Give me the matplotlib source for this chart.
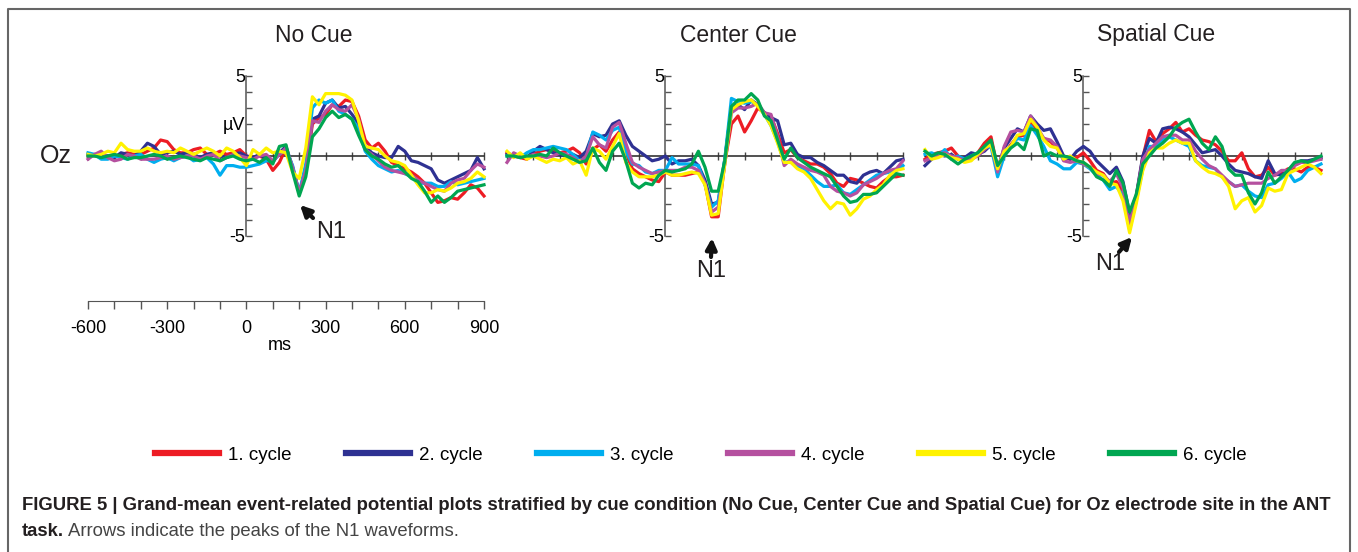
import numpy as np
import matplotlib
matplotlib.use("Agg")
import matplotlib.pyplot as plt
from matplotlib.lines import Line2D

plt.rcParams['font.family'] = ['Liberation Sans', 'DejaVu Sans']
plt.rcParams['axes.unicode_minus'] = False

W, H = 1358, 552

# sampling grid of the waveforms (ms)
times = np.arange(-600, 901, 25)

conditions = ["No Cue", "Center Cue", "Spatial Cue"]
cycle_labels = ["1. cycle", "2. cycle", "3. cycle", "4. cycle", "5. cycle", "6. cycle"]
cycle_colors = ["#ED1C24", "#2E3192", "#00AEEF", "#B5509F", "#FFF200", "#00A651"]

# ---- No Cue (uV) ----
nocue_c1 = [0, 0.1, 0, 0, -0.1, 0.1, 0.2, 0.1, 0.1, 0.3, 0.5, 1.0, 0.9, 0.4, 0.2, 0.2, 0.4, 0.5, 0.1, 0.1, 0.3, 0.1, 0.2, 0.4, 0.0,
            -0.1, 0.0, -0.2, -0.9, -0.4, 0.5, -0.8, -2.3, -1.0, 2.0, 2.4, 2.6, 3.2, 3.1, 3.5, 3.4, 2.5, 1.0, 0.5, 0.8, 0.3, -0.4,
            -0.6, -0.8, -1.0, -1.3, -1.7, -2.3, -2.9, -2.8, -2.6, -2.7, -2.3, -1.8, -2.0, -2.5]
nocue_c2 = [0.1, 0, 0, 0, -0.1, 0.2, 0.1, 0, 0.3, 0.8, 0.6, 0.1, 0.2, 0.3, 0.1, 0.2, 0.1, -0.1, 0.1, 0.2, 0.0, -0.1, 0.1, 0.2, 0.0,
            -0.1, 0.1, -0.2, -0.4, 0.2, 0.6, -0.7, -2.3, -0.8, 2.3, 2.5, 3.3, 3.5, 3.0, 3.1, 2.6, 2.0, 0.6, 0.2, 0.0, -0.1, -0.1,
            0.6, 0.3, -0.3, -0.4, -0.6, -0.8, -1.5, -1.7, -1.5, -1.3, -1.1, -0.9, -0.1, -0.8]
nocue_c3 = [0.2, 0.1, -0.2, -0.2, 0.0, -0.1, -0.2, 0.0, 0.1, -0.2, -0.4, -0.2, -0.1, -0.3, -0.1, 0.0, -0.3, -0.2, -0.1, -0.5, -1.2, -0.6, -0.6, -0.7, -0.7,
            -0.6, -0.5, -0.3, -0.3, 0.1, 0.4, -0.6, -2.3, -0.5, 3.0, 3.5, 3.3, 3.5, 2.8, 2.6, 2.3, 1.7, 0.3, -0.2, -0.6, -0.8, -1.0,
            -0.9, -1.1, -1.3, -1.7, -1.7, -1.7, -1.9, -1.9, -1.6, -1.8, -1.7, -1.6, -1.5, -1.4]
nocue_c4 = [-0.2, 0.1, 0.3, -0.1, -0.3, -0.2, 0.1, 0.0, -0.2, -0.2, -0.2, -0.1, 0.0, -0.2, -0.1, 0.0, 0.0, -0.2, 0.0, 0.1, -0.3, -0.1, 0.1, 0.0, -0.1,
            -0.2, 0.0, 0.1, -0.3, 0.1, 0.5, -0.7, -2.3, -0.9, 2.2, 2.1, 2.8, 3.2, 2.9, 2.8, 3.2, 2.3, 0.4, 0.1, -0.3, -0.7, -0.9,
            -1.0, -1.1, -1.2, -1.5, -1.7, -1.9, -2.1, -2.2, -1.7, -1.5, -1.4, -0.9, -0.5, -0.7]
nocue_c5 = [0.1, 0.0, 0.1, 0.3, 0.2, 0.8, 0.4, 0.3, 0.3, 0.5, 0.3, 0.2, 0.3, 0.2, 0.5, 0.3, 0.1, 0.3, 0.5, 0.3, 0.0, 0.5, 0.3, -0.1, -0.6,
            0.4, 0.1, 0.5, 0.2, 0.3, 0.2, -1.0, -1.4, 0.5, 3.7, 3.2, 3.9, 3.9, 3.9, 3.8, 3.5, 2.2, 0.6, 0.5, 0.4, 0.0, -0.3,
            -0.4, -0.6, -1.2, -1.8, -2.3, -2.3, -2.1, -2.2, -2.0, -1.7, -1.6, -1.4, -1.0, -1.3]
nocue_c6 = [0.0, 0.0, -0.1, 0.0, 0.1, 0.0, -0.2, -0.1, -0.1, 0.0, 0.1, 0.0, -0.2, -0.1, 0.0, -0.1, -0.2, -0.3, -0.1, -0.2, -0.3, -0.1, 0.0, -0.2, -0.3,
            -0.2, -0.4, -0.1, -0.5, 0.6, 0.7, -1.0, -2.5, -1.3, 1.2, 1.7, 2.4, 2.8, 2.4, 2.6, 2.3, 1.3, 0.4, 0.0, -0.2, -0.5, -0.7,
            -0.6, -1.0, -1.4, -1.6, -2.2, -2.9, -2.5, -2.9, -2.6, -2.2, -2.1, -2.0, -1.9, -1.8]

# ---- Center Cue (uV) ----
center_c1 = [0.2, 0.0, -0.1, -0.2, 0.1, 0.3, 0.4, 0.3, 0.2, 0.3, 0.5, 0.2, -0.5, 0.4, 0.7, 0.3, 1.0, 1.5, 0.2, -0.8, -1.1, -1.3, -1.5, -1.6, -1.0,
             -1.2, -1.2, -1.2, -1.1, -1.0, -1.7, -3.8, -3.8, -0.4, 2.0, 2.5, 1.5, 2.2, 3.0, 2.7, 2.5, 1.4, 0.2, 0.4, -0.1, -0.3, -0.5,
             -0.5, -0.7, -1.1, -1.7, -1.9, -1.4, -1.5, -1.7, -1.9, -2.0, -1.6, -1.3, -1.3, -1.2]
center_c2 = [0.1, 0.0, 0.1, -0.1, 0.3, 0.6, 0.4, 0.2, 0.1, 0.0, 0.1, -0.1, 0.3, 1.4, 1.2, 1.3, 2.0, 2.2, 1.3, 0.6, 0.3, 0.0, -0.3, -0.2, 0.0,
             -0.5, -0.3, -0.3, -0.2, -0.6, -1.5, -3.0, -2.9, -0.2, 3.0, 3.2, 2.9, 3.5, 3.2, 2.7, 2.4, 2.2, 0.7, 0.8, 0.1, -0.1, -0.1,
             -0.4, -0.6, -0.9, -1.2, -1.2, -1.6, -1.7, -1.2, -1.0, -0.9, -1.1, -0.7, -0.3, -0.2]
center_c3 = [0.0, 0.1, -0.1, 0.2, 0.4, 0.4, 0.5, 0.6, 0.5, 0.4, 0.1, -0.3, -0.1, 1.5, 1.3, 1.0, 1.6, 1.8, 0.3, -0.5, -0.6, -1.0, -1.1, -0.9, -0.9,
             -0.1, -0.5, -0.5, -0.5, -0.6, -1.8, -3.2, -2.8, -0.2, 3.6, 3.4, 3.3, 3.4, 3.2, 2.6, 1.9, 0.9, -0.4, -0.3, -0.6, -0.8, -1.2,
             -1.6, -1.9, -1.9, -1.8, -2.3, -2.4, -2.1, -1.8, -1.5, -1.2, -1.1, -1.0, -0.9, -0.6]
center_c4 = [-0.4, 0.2, 0.0, -0.1, 0.1, 0.0, -0.1, 0.0, 0.2, 0.1, -0.1, -0.4, 0.0, 1.2, 0.7, 0.5, 1.8, 2.1, 0.8, -0.4, -0.7, -0.9, -1.1, -1.0, -0.9,
             -0.9, -0.9, -0.7, -0.7, -0.9, -1.7, -3.5, -3.2, -0.5, 2.7, 3.0, 3.0, 3.1, 3.3, 2.7, 2.6, 1.2, -0.6, -0.2, -0.5, -0.7, -0.9,
             -1.0, -1.2, -1.9, -2.2, -2.3, -2.5, -2.3, -1.8, -1.6, -1.4, -1.1, -0.9, -0.8, -0.3]
center_c5 = [0.3, -0.1, 0.2, -0.2, 0.0, -0.2, -0.4, -0.2, -0.3, -0.1, -0.5, -0.3, -1.2, 0.5, 0.3, -0.2, 0.6, 1.4, -0.4, -1.0, -1.3, -1.3, -1.3, -1.2, -1.0,
             -1.2, -1.2, -1.1, -1.0, -1.1, -1.8, -3.7, -3.6, -0.5, 2.9, 3.2, 3.4, 3.5, 3.1, 2.6, 1.9, 0.8, -0.4, -0.4, -0.8, -1.0, -1.4,
             -2.1, -2.8, -3.3, -2.9, -3.0, -3.7, -3.3, -2.7, -2.5, -2.1, -1.8, -1.2, -0.9, -0.8]
center_c6 = [0.0, 0.0, -0.1, 0.0, 0.0, 0.1, 0.0, 0.5, 0.2, 0.0, -0.2, -0.4, -0.3, 0.5, -0.4, -0.9, 0.3, 0.8, -0.3, -1.7, -2.0, -1.7, -1.8, -1.2, -0.9,
             -1.0, -0.9, -0.8, -0.5, 0.3, -0.7, -2.2, -2.2, -0.3, 3.1, 3.5, 3.5, 3.9, 3.5, 2.5, 2.2, 1.0, -0.2, 0.5, -0.1, -0.4, -0.7,
             -0.9, -1.1, -1.3, -1.9, -2.5, -2.9, -2.8, -2.4, -2.4, -2.3, -1.9, -1.5, -1.1, -1.2]

# ---- Spatial Cue (uV) ----
spatial_c1 = [-0.2, 0.1, 0.2, 0.3, 0.5, 0.0, -0.3, -0.1, 0.2, 0.8, 1.2, -0.8, 0.1, 0.7, 1.2, 1.3, 2.1, 1.5, 1.1, 0.9, 0.5, -0.1, -0.2, -0.1, 0.2,
              -0.3, -0.9, -1.1, -1.7, -1.6, -2.2, -4.0, -2.6, -0.1, 1.6, 0.9, 1.4, 1.7, 2.1, 1.5, 1.7, 1.3, 1.0, 0.9, 0.7, 0.3, -0.3,
              -0.3, 0.2, -0.8, -1.3, -1.2, -0.7, -1.2, -1.1, -0.8, -0.8, -1.0, -0.7, -0.7, -0.9]
spatial_c2 = [-0.6, -0.2, 0.1, 0.0, 0.1, -0.2, -0.1, 0.2, 0.1, 0.3, 0.7, -0.8, 0.5, 1.1, 1.7, 1.5, 2.5, 2.0, 1.6, 1.7, 0.9, 0.0, -0.2, 0.3, 0.6,
              0.3, -0.3, -0.7, -1.1, -0.7, -1.6, -3.6, -2.5, 0.0, 1.1, 0.8, 1.7, 1.8, 1.7, 1.5, 1.2, 0.7, 0.2, 0.3, 0.4, 0.0, -0.5,
              -0.9, -1.0, -1.1, -1.3, -1.4, -0.3, -1.1, -1.2, -0.9, -0.5, -0.3, -0.3, -0.2, -0.1]
spatial_c3 = [0.1, 0.2, 0.0, 0.4, -0.2, 0.0, -0.2, 0.0, 0.2, 0.5, 0.6, -1.3, 0.0, 0.6, 1.1, 1.0, 1.9, 1.3, 0.6, -0.3, -0.5, -0.8, -0.8, -0.4, -0.5,
              -0.8, -1.2, -1.5, -2.1, -1.9, -2.5, -4.6, -2.8, -0.8, 0.6, 0.6, 1.0, 1.2, 1.0, 0.8, 0.6, -0.3, -0.6, -0.7, -0.8, -1.3, -1.6,
              -1.9, -1.8, -2.2, -2.5, -2.6, -1.8, -1.7, -1.4, -1.0, -1.6, -1.4, -0.9, -0.7, -0.5]
spatial_c4 = [-0.3, -0.1, 0.1, 0.2, 0.0, -0.1, -0.3, -0.2, 0.0, 0.4, 0.8, -1.0, 0.6, 1.5, 1.6, 1.5, 2.5, 1.8, 1.1, 1.0, 0.6, -0.3, -0.4, -0.3, -0.5,
              -0.7, -1.1, -1.2, -1.6, -1.1, -2.0, -4.2, -2.6, -0.2, 0.4, 0.8, 1.2, 1.3, 1.3, 1.0, 1.0, 0.3, -0.2, -0.6, -0.8, -1.2, -1.6,
              -1.9, -1.8, -1.7, -1.7, -1.7, -1.4, -1.2, -0.9, -0.9, -0.6, -0.4, -0.4, -0.3, -0.2]
spatial_c5 = [0.4, -0.2, -0.1, 0.1, -0.1, -0.2, -0.4, -0.3, 0.1, 0.5, 0.7, -0.8, 0.3, 0.6, 1.3, 1.4, 2.3, 1.8, 1.0, 0.6, 0.5, -0.2, 0.0, -0.3, -0.4,
              -0.7, -1.0, -1.2, -1.7, -1.8, -2.8, -4.8, -3.0, -0.9, 0.2, 0.5, 0.5, 0.8, 1.0, 0.8, 0.8, -0.3, -0.7, -1.0, -1.1, -1.3, -1.9,
              -3.3, -2.8, -2.6, -3.5, -3.1, -2.0, -2.2, -2.1, -1.1, -0.9, -0.7, -0.5, -0.7, -1.1]
spatial_c6 = [0.3, 0.0, 0.2, 0.1, -0.2, -0.5, -0.2, 0.0, 0.2, 0.6, 1.0, -0.6, 0.0, 0.5, 0.8, 0.4, 1.7, 1.6, 0.0, 0.2, 0.0, 0.0, -0.1, -0.3, -0.4,
              -0.7, -1.3, -1.5, -1.9, -0.9, -1.7, -3.5, -2.4, -0.5, 0.0, 0.5, 0.8, 1.2, 1.8, 2.1, 2.3, 1.5, 0.8, 0.4, 1.2, 0.6, -0.8,
              -1.2, -1.2, -2.3, -3.0, -2.3, -1.0, -1.7, -1.3, -0.9, -0.4, -0.3, -0.4, -0.2, 0.0]

panel_data = [
    [nocue_c1, nocue_c2, nocue_c3, nocue_c4, nocue_c5, nocue_c6],
    [center_c1, center_c2, center_c3, center_c4, center_c5, center_c6],
    [spatial_c1, spatial_c2, spatial_c3, spatial_c4, spatial_c5, spatial_c6],
]

# layout in pixels of the reference picture
panel_left = [88, 507, 925]
panel_w = 396
y_top, y_bot = 76, 236
title_x = [314, 738, 1156]
n1_arrow = [((300, 205), (313, 218)), ((712, 238), (711, 257)), ((1132, 237), (1119, 252))]
n1_text = [(331, 232), (711, 271), (1110, 264)]

fig = plt.figure(figsize=(W / 100, H / 100), dpi=100)


def fy(y):
    return 1 - y / H


for i, series in enumerate(panel_data):
    ax = fig.add_axes([panel_left[i] / W, fy(y_bot), panel_w / W, (y_bot - y_top) / H])
    ax.patch.set_visible(False)
    ax.set_xlim(-600, 900)
    ax.set_ylim(-5, 5)
    for s in ["top", "right"]:
        ax.spines[s].set_visible(False)
    ax.spines["left"].set_position(("data", 0))
    ax.spines["bottom"].set_position(("data", 0))
    ax.spines["left"].set_bounds(-5, 5)
    ax.spines["left"].set_color("#555555")
    ax.spines["bottom"].set_color("#333333")
    ax.spines["left"].set_linewidth(1.1)
    ax.spines["bottom"].set_linewidth(1.2)
    ax.set_xticks(np.arange(-600, 901, 100))
    ax.set_xticklabels([])
    ax.tick_params(axis="x", direction="inout", length=6, width=1, color="#444444")
    ylabels = [""] * 11
    ylabels[0], ylabels[10] = "-5", "5"
    if i == 0:
        ylabels[7] = "µV"
    ax.set_yticks(range(-5, 6))
    ax.set_yticklabels(ylabels)
    ax.tick_params(axis="y", direction="in", length=4, width=1, color="#555555",
                   pad=1, labelsize=13)
    for vals, col in zip(series, cycle_colors):
        ax.plot(times, vals, color=col, lw=2.3, solid_joinstyle="round",
                clip_on=False, zorder=3)

    fig.text(title_x[i] / W, fy(35), conditions[i], fontsize=16.5,
             ha="center", va="center", color="#231F20")

    (tx, ty), (sx, sy) = n1_arrow[i]
    ax.annotate("", xy=(tx, H - ty), xytext=(sx, H - sy), xycoords="figure pixels",
                textcoords="figure pixels",
                arrowprops=dict(arrowstyle="-|>", color="#111111", lw=3,
                                mutation_scale=16, shrinkA=0, shrinkB=0))
    fig.text(n1_text[i][0] / W, fy(n1_text[i][1]), "N1", fontsize=17,
             ha="center", va="center", color="#231F20")

fig.text(56 / W, fy(156), "Oz", fontsize=18, ha="center", va="center", color="#231F20")

# time axis under the first panel
axt = fig.add_axes([panel_left[0] / W, fy(301), panel_w / W, 1 / H])
axt.patch.set_visible(False)
axt.set_xlim(-600, 900)
for s in ["top", "right", "left"]:
    axt.spines[s].set_visible(False)
axt.spines["bottom"].set_color("#555555")
axt.set_yticks([])
axt.set_xticks([-600, -300, 0, 300, 600, 900])
axt.set_xticks(np.arange(-600, 901, 100), minor=True)
axt.tick_params(axis="x", which="both", direction="out", length=6, width=1,
                color="#555555", labelsize=13, pad=8)
fig.text(280 / W, fy(345), "ms", fontsize=13, ha="center", va="center")

# legend
handles = [Line2D([], [], color=c, lw=4.5) for c in cycle_colors]
fig.legend(handles, cycle_labels, loc="center", bbox_to_anchor=(701 / W, fy(455)),
           ncol=6, frameon=False, fontsize=13.5, handlelength=3.4,
           handletextpad=0.5, columnspacing=2.9)

# frame
fig.add_artist(Line2D([7.5 / W, 7.5 / W, 1349.5 / W, 1349.5 / W],
                      [0, fy(8.5), fy(8.5), 0], transform=fig.transFigure,
                      color="#666666", lw=1.5))

# caption
cap_size = 13.3
fig.text(22 / W, fy(506), "FIGURE 5 | Grand-mean event-related potential plots stratified by cue "
         "condition (No Cue, Center Cue and Spatial Cue) for Oz electrode site in the ANT",
         fontsize=cap_size, fontweight="bold", ha="left", va="center", color="#231F20")
t1 = fig.text(22 / W, fy(531), "task.", fontsize=cap_size, fontweight="bold",
              ha="left", va="center", color="#231F20")
renderer = fig.canvas.get_renderer()
bb = t1.get_window_extent(renderer)
fig.text((bb.x1 + 4) / W, fy(531), "Arrows indicate the peaks of the N1 waveforms.",
         fontsize=cap_size, ha="left", va="center", color="#444444")

fig.savefig("out.png", dpi=100)
